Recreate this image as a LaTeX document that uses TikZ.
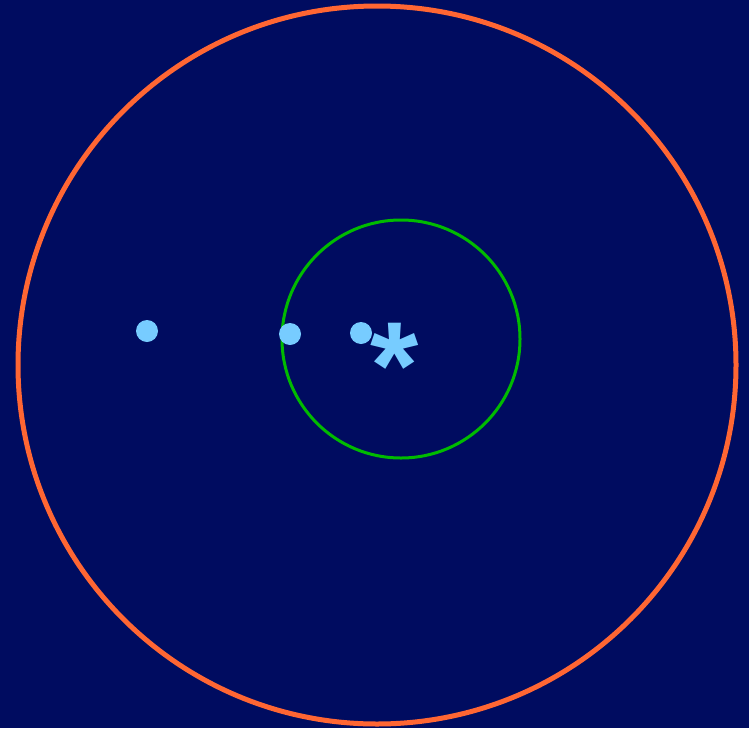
\documentclass[tikz,border=0pt]{standalone}
\usepackage{fontspec}
\newfontfamily\starfont{Liberation Sans}
\usepackage{tikz}
\definecolor{skynavy}{HTML}{000C60}
\definecolor{orbitorange}{HTML}{FF6633}
\definecolor{zonegreen}{HTML}{00BB00}
\definecolor{planetblue}{HTML}{77CCFF}
\tikzset{
  orbit/.style={draw=orbitorange, line width=5pt},
  zone/.style={draw=zonegreen, line width=3pt},
  planet/.style={circle, fill=planetblue, inner sep=0pt, minimum size=22pt},
  star/.style={text=planetblue, font=\starfont\bfseries\fontsize{124}{124}\selectfont, inner sep=0pt}
}
\begin{document}
\begin{tikzpicture}[x=1pt,y=-1pt]
  \fill[skynavy] (0,0) rectangle (749,728);
  \useasboundingbox (0,0) rectangle (749,728);

  \coordinate (sun) at (377,365);
  \coordinate (hz) at (401,339);
  \draw[orbit] (sun) circle (359);
  \draw[zone] (hz) circle (119);

  \node[planet] (p1) at (147,331) {};
  \node[planet] (p2) at (290,334) {};
  \node[planet] (p3) at (361,333) {};
  \node[star] (s) at (395,366) {*};
\end{tikzpicture}
\end{document}
